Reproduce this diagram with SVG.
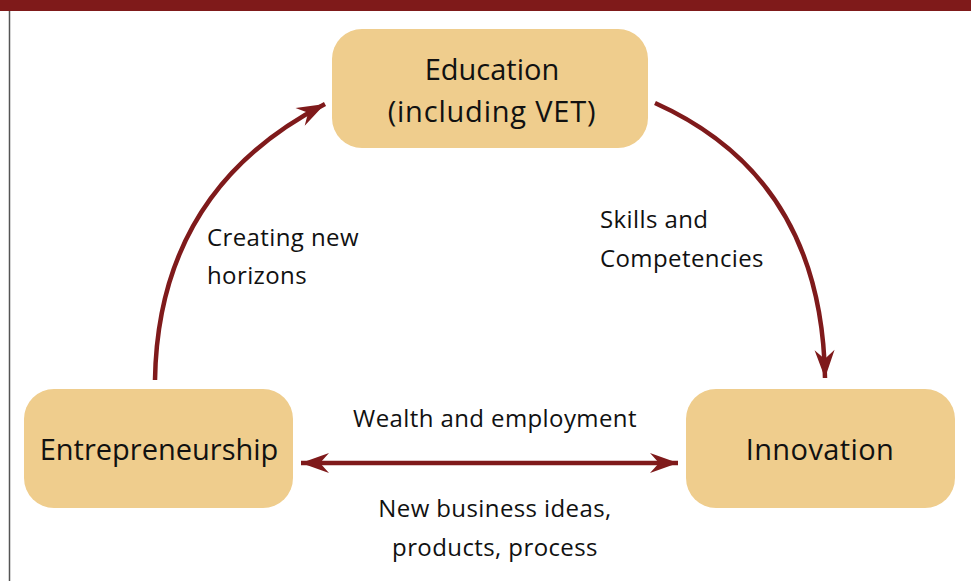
<svg xmlns="http://www.w3.org/2000/svg" width="971" height="581" viewBox="0 0 971 581">
<style>
.box{fill:#EFCD8D;}
.lbl{font-family:"Open Sans","DejaVu Sans",sans-serif;font-size:29px;fill:#111;text-anchor:middle;}
.txt{font-family:"Open Sans","DejaVu Sans",sans-serif;font-size:24px;letter-spacing:0.4px;fill:#111;}
.arr{fill:none;stroke:#7F1A1B;stroke-width:4.5;}
</style>
<defs>
<marker id="ah" markerUnits="userSpaceOnUse" viewBox="-30 -12 32 24" refX="0" refY="0" markerWidth="32" markerHeight="24" orient="auto-start-reverse">
<path d="M0,0 L-28,-10 L-19,0 L-28,10 Z" fill="#7F1A1B"/>
</marker>
</defs>
<rect x="0" y="0" width="971" height="581" fill="#fff"/>
<rect x="0" y="0" width="971" height="11" fill="#7F1A1A"/>
<line x1="9.5" y1="11" x2="9.5" y2="581" stroke="#555" stroke-width="1.5"/>
<g id="connectors">
<path class="arr" d="M155,380 Q158,190 325,104" marker-end="url(#ah)"/>
<path class="arr" d="M655,103 Q822,178 825,378" marker-end="url(#ah)"/>
<path class="arr" d="M301,463 L678,463" marker-start="url(#ah)" marker-end="url(#ah)"/>
</g>
<g id="education">
<rect class="box" x="332" y="29" width="316" height="119" rx="30"/>
<text class="lbl" x="492" y="80">Education</text>
<text class="lbl" x="492" y="122" letter-spacing="0.8">(including VET)</text>
</g>
<g id="entrepreneurship">
<rect class="box" x="24" y="389" width="269" height="119" rx="30"/>
<text class="lbl" x="159" y="460">Entrepreneurship</text>
</g>
<g id="innovation">
<rect class="box" x="686" y="389" width="269" height="119" rx="30"/>
<text class="lbl" x="820" y="460" letter-spacing="0.4">Innovation</text>
</g>
<g id="labels">
<text class="txt" x="207" y="246">Creating new</text>
<text class="txt" x="207" y="284">horizons</text>
<text class="txt" x="600" y="228">Skills and</text>
<text class="txt" x="600" y="267">Competencies</text>
<text class="txt" x="495" y="427" text-anchor="middle">Wealth and employment</text>
<text class="txt" x="495" y="517" text-anchor="middle">New business ideas,</text>
<text class="txt" x="495" y="556" text-anchor="middle">products, process</text>
</g>
</svg>
